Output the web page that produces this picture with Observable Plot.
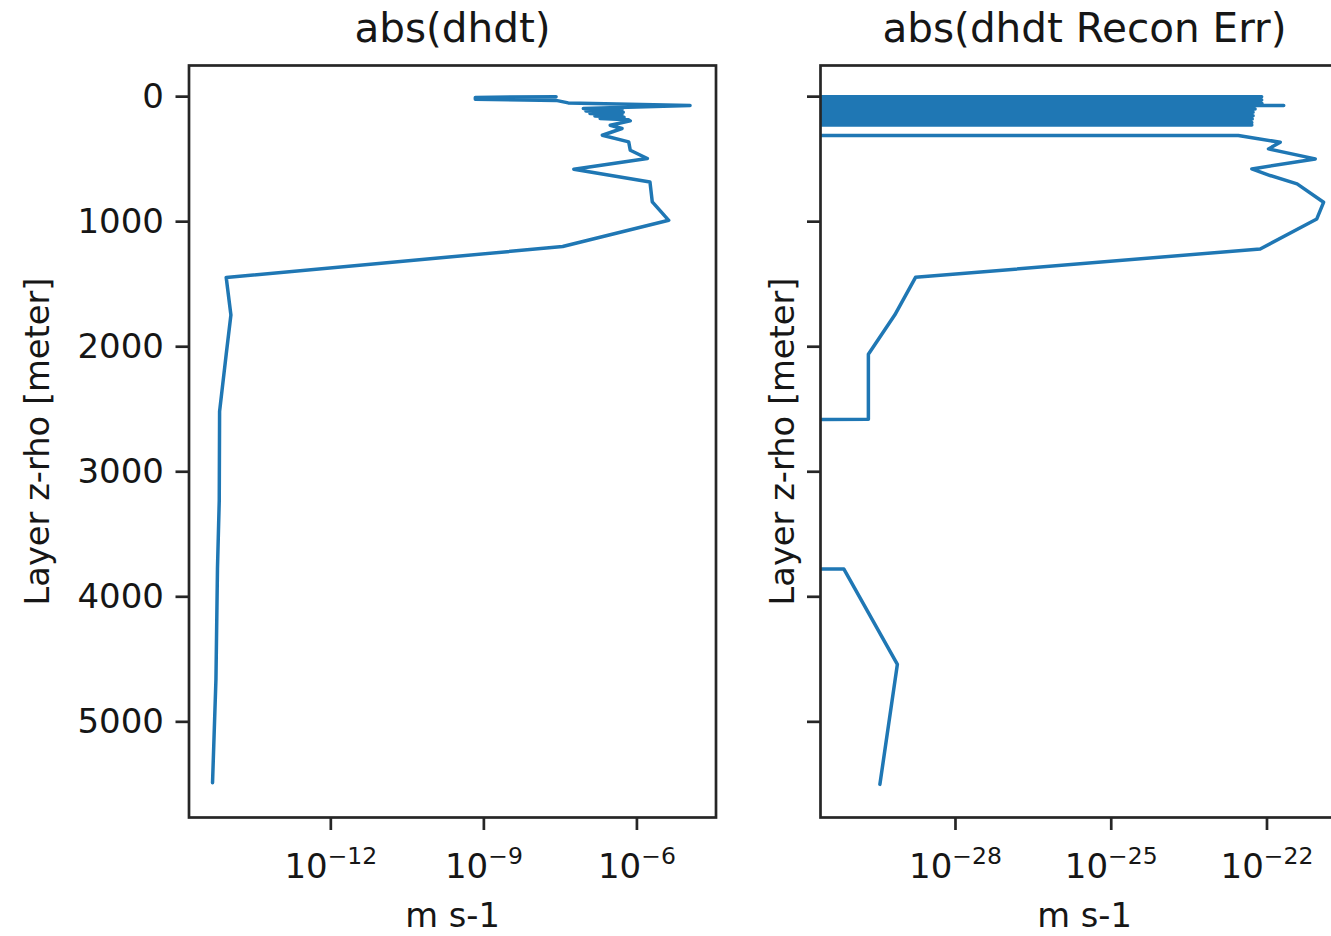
<!DOCTYPE html>
<html><head><meta charset="utf-8">
<script src="https://cdn.jsdelivr.net/npm/d3@7"></script>
<script src="https://cdn.jsdelivr.net/npm/@observablehq/plot@0.6"></script>
<style>
html,body{margin:0;padding:0;background:#fff;overflow:hidden;}
#wrap{position:relative;width:1331px;height:936px;overflow:hidden;background:#fff;}
#wrap svg{position:absolute;top:0;}
</style></head><body><div id="wrap"></div>
<script>
// ---- data ----
const titles = ["abs(dhdt)", "abs(dhdt Recon Err)"];
const xLabel = "m s-1";
const yLabel = "Layer z-rho [meter]";
const depthTicks = [0, 1000, 2000, 3000, 4000, 5000];
const leftXTicks = [1e-12, 1e-9, 1e-6];
const rightXTicks = [1e-28, 1e-25, 1e-22];

const leftDepth = [0, 6, 20, 30, 50, 71, 95, 105, 115, 125, 135, 145, 155, 165, 175, 185, 194, 229, 255, 309, 362, 429, 495, 581, 682, 842, 989, 1199, 1446, 1746, 2060, 2517, 3231, 3775, 4660, 5487];
const leftValue = [2.6e-8, 6.8e-10, 6.8e-10, 2.6e-8, 4.5e-8, 1.1e-5, 8.9e-8, 5.1e-7, 1.0e-7, 5.4e-7, 1.2e-7, 5.1e-7, 1.5e-7, 5.6e-7, 1.9e-7, 6.8e-7, 7.4e-7, 3.0e-7, 5.1e-7, 2.1e-7, 6.9e-7, 7.4e-7, 1.6e-6, 5.8e-8, 1.8e-6, 2.0e-6, 4.2e-6, 3.5e-8, 8.9e-15, 1.1e-14, 8.9e-15, 6.6e-15, 6.5e-15, 6.0e-15, 5.6e-15, 4.8e-15];

const rightDepth = [0, 13, 27, 40, 54, 62, 71, 84, 98, 111, 125, 138, 152, 165, 179, 192, 206, 216, 226, 270, 311, 365, 418, 498, 578, 631, 698, 845, 978, 1218, 1445, 1745, 2060, 2580, 3200, 3778, 4540, 5500];
const rightValue = [7.9e-23, 0, 7.9e-23, 0, 8.0e-23, 0, 2.1e-22, 0, 5.9e-23, 0, 5.4e-23, 0, 5.4e-23, 0, 5.2e-23, 0, 5.1e-23, 0, 5.1e-23, 0, 2.8e-23, 1.8e-22, 1.07e-22, 8.5e-22, 5.1e-23, 1.15e-22, 3.8e-22, 1.23e-21, 9.1e-22, 7.4e-23, 1.7e-29, 6.8e-30, 2.1e-30, 2.1e-30, 0, 7.1e-31, 7.6e-30, 3.5e-30];

// ---- drawing ----
const FONT = "DejaVu Sans";
const ink = "#262626";
const textInk = "#161616";
const ctx = document.createElement("canvas").getContext("2d");
function measure(s, size) { ctx.font = `${size}px "${FONT}"`; return ctx.measureText(s).width; }

function expLabelMarks(ticks) {
  const marks = [];
  for (const t of ticks) {
    const e = Math.round(Math.log10(t));
    const base = "10";
    const sup = (e < 0 ? "\u2212" : "") + Math.abs(e);
    const wb = measure(base, 34), ws = measure(sup, 23.5);
    const total = wb + ws;
    marks.push(Plot.text([t], {x: d => d, text: () => base, frameAnchor: "bottom", lineAnchor: "bottom", textAnchor: "start", dx: -total / 2, dy: 60, fontSize: 34, fill: textInk}));
    marks.push(Plot.text([t], {x: d => d, text: () => sup, frameAnchor: "bottom", lineAnchor: "bottom", textAnchor: "start", dx: -total / 2 + wb, dy: 46.5, fontSize: 23.5, fill: textInk}));
  }
  return marks;
}

function panel({depth, value, xDomain, xTicks, title, tickLabels, width, marginLeft, marginRight, yLabelDx}) {
  const data = depth.map((z, i) => ({z, v: value[i]}));
  return Plot.plot({
    width, height: 936, marginLeft, marginRight, marginTop: 65, marginBottom: 119,
    style: {fontFamily: FONT, background: "transparent", color: ink},
    x: {type: "log", domain: xDomain},
    y: {domain: [-249, 5765], reverse: true},
    marks: [
      Plot.line(data, {x: d => d.v > 0 ? d.v : Number.MIN_VALUE, y: "z", stroke: "#1f77b4", strokeWidth: 3.5, clip: true}),
      Plot.frame({stroke: ink, strokeWidth: 2.7}),
      Plot.axisY({ticks: depthTicks, tickSize: 13, tickPadding: 12, fontSize: 34, strokeWidth: 2.7, label: null,
                  tickFormat: tickLabels ? d => String(d) : () => "", fill: textInk}),
      Plot.axisX({ticks: xTicks, tickSize: 13, strokeWidth: 2.7, label: null, tickFormat: () => ""}),
      ...expLabelMarks(xTicks),
      Plot.text([title], {text: d => d, frameAnchor: "top", textAnchor: "middle", lineAnchor: "bottom", dy: -24, fontSize: 40.5, fill: textInk}),
      Plot.text([xLabel], {text: d => d, frameAnchor: "bottom", textAnchor: "middle", lineAnchor: "bottom", dy: 109.5, fontSize: 33.7, fill: textInk}),
      Plot.text([yLabel], {text: d => d, frameAnchor: "left", textAnchor: "middle", lineAnchor: "bottom", rotate: -90, dx: yLabelDx, fontSize: 33.7, fill: textInk})
    ]
  });
}

const wrap = document.getElementById("wrap");
const leftSvg = panel({depth: leftDepth, value: leftValue, xDomain: [10 ** -14.78, 10 ** -4.45], xTicks: leftXTicks,
  title: titles[0], tickLabels: true, width: 760, marginLeft: 188.5, marginRight: 44.5, yLabelDx: -140.5});
leftSvg.style.left = "0px";
const rightSvg = panel({depth: rightDepth, value: rightValue, xDomain: [10 ** -30.60, 10 ** -20.43], xTicks: rightXTicks,
  title: titles[1], tickLabels: false, width: 700, marginLeft: 120, marginRight: 52, yLabelDx: -27});
rightSvg.style.left = "700px";
wrap.appendChild(leftSvg);
wrap.appendChild(rightSvg);
</script>
</body></html>
